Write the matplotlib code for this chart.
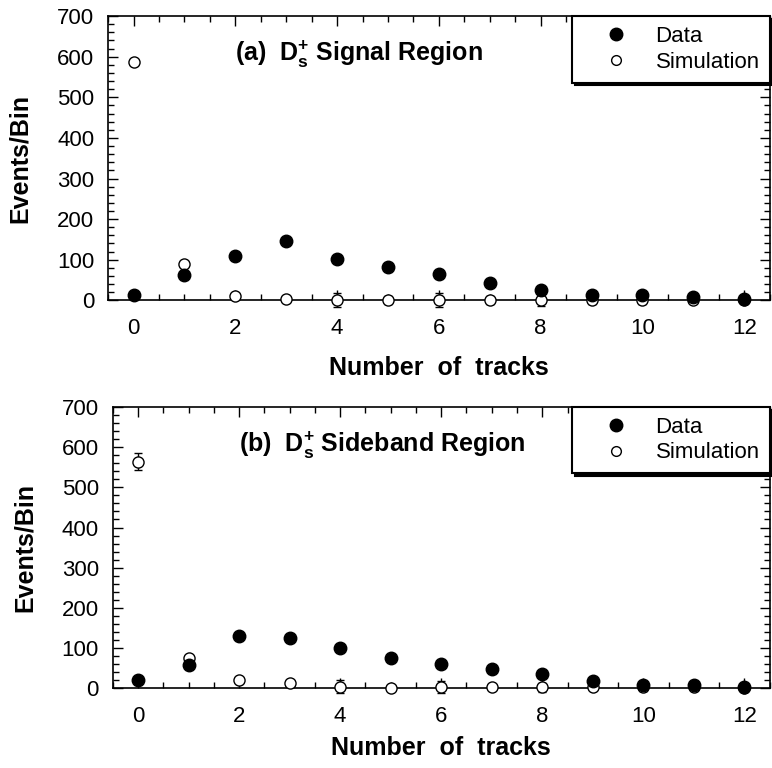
import numpy as np
import matplotlib
matplotlib.use("Agg")
import matplotlib.pyplot as plt
from matplotlib.lines import Line2D

plt.rcParams["font.family"] = ["Liberation Sans", "DejaVu Sans"]
plt.rcParams["mathtext.fontset"] = "custom"
plt.rcParams["mathtext.rm"] = "Liberation Sans"
plt.rcParams["mathtext.bf"] = "Liberation Sans:bold"

# --- values ----------------------------------------------------------------
tracks = np.arange(13)

# (a) signal region
sig_data = [14, 63, 110, 145, 101, 81, 64, 43, 25, 13, 12, 7, 2]
sig_data_err = [4, 8, 10, 12, 10, 9, 8, 7, 5, 4, 4, 3, 12]
sig_sim = [586, 90, 11, 4, 1, 1, 1, 1, 1, 0, 0, 0, 0]
sig_sim_err = [6, 6, 8, 6, 18, 10, 18, 10, 15, 8, 8, 6, 0]

# (b) sideband region
sb_data = [19, 57, 131, 124, 101, 76, 61, 47, 34, 18, 9, 7, 4]
sb_data_err = [4, 7, 11, 11, 10, 9, 8, 7, 6, 4, 12, 3, 12]
sb_sim = [564, 74, 20, 12, 4, 0, 2, 2, 2, 4, 4, 2, 0]
sb_sim_err = [22, 6, 8, 6, 15, 5, 15, 5, 12, 6, 10, 5, 0]

panels = [
    ("(a)  D$_{\\mathbf{s}}^{\\mathbf{+}}$ Signal Region",
     sig_data, sig_data_err, sig_sim, sig_sim_err,
     [0.140, 0.609, 0.857, 0.370], 12),
    ("(b)  D$_{\\mathbf{s}}^{\\mathbf{+}}$ Sideband Region",
     sb_data, sb_data_err, sb_sim, sb_sim_err,
     [0.146, 0.104, 0.851, 0.366], 6),
]

fig = plt.figure(figsize=(7.72, 7.68), dpi=100)

for title, data, data_err, sim, sim_err, rect, xpad in panels:
    ax = fig.add_axes(rect)

    # simulation first (open circles), data drawn on top (filled)
    ax.errorbar(tracks, sim, yerr=sim_err, fmt="o", mfc="white", mec="black",
                mew=1.0, ms=8, ecolor="black", elinewidth=1.0, capsize=3,
                clip_on=False, zorder=3)
    ax.errorbar(tracks, data, yerr=data_err, fmt="o", color="black",
                ms=9, elinewidth=1.0, capsize=0, clip_on=False, zorder=4)

    ax.set_xlim(-0.5, 12.5)
    ax.set_ylim(0, 700)
    ax.set_xticks(np.arange(0, 13, 2))
    ax.set_xticks(np.arange(-0.5, 12.6, 0.5), minor=True)
    ax.set_yticks(np.arange(0, 701, 100))
    ax.set_yticks(np.arange(0, 701, 20), minor=True)
    ax.tick_params(which="both", direction="in", top=True, right=True,
                   width=1.0, labelsize=16)
    ax.tick_params(which="major", length=7)
    ax.tick_params(which="minor", length=4)
    ax.tick_params(axis="x", pad=13)
    ax.tick_params(axis="y", pad=10)
    for sp in ax.spines.values():
        sp.set_linewidth(1.2)

    ax.set_xlabel("Number  of  tracks", fontsize=18, fontweight="bold",
                  labelpad=xpad)
    ax.set_ylabel("Events/Bin", fontsize=18, fontweight="bold", labelpad=18)

    ax.text(2.0, 605, title, fontsize=18, fontweight="bold",
            ha="left", va="center")

    handles = [
        Line2D([], [], ls="none", marker="o", color="black", ms=9),
        Line2D([], [], ls="none", marker="o", mfc="white", mec="black",
               mew=1.0, ms=7),
    ]
    leg = ax.legend(handles, ["Data", "Simulation"], loc="upper right",
                    bbox_to_anchor=(1.0, 1.0), borderaxespad=0,
                    fontsize=16, frameon=True, fancybox=False,
                    edgecolor="black", framealpha=1, numpoints=1,
                    handlelength=3.0, handletextpad=0.3, labelspacing=0.2,
                    borderpad=0.45,
                    shadow={"color": "black", "alpha": 1.0})
    leg.get_frame().set_linewidth(1.5)
    leg.set_zorder(10)

fig.savefig("out.png", dpi=100)
